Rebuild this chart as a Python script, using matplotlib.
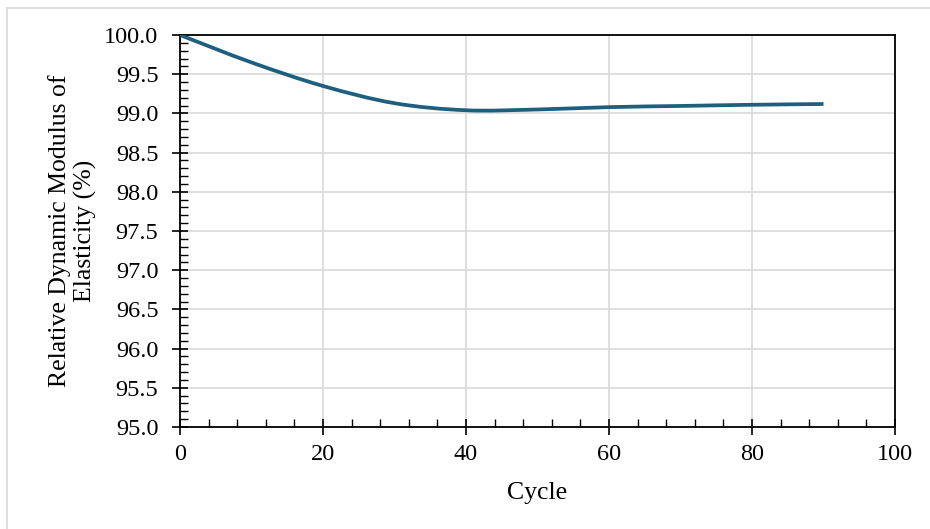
import matplotlib.pyplot as plt
from matplotlib.path import Path
from matplotlib.patches import PathPatch
from matplotlib.ticker import MultipleLocator, FormatStrFormatter
from matplotlib.lines import Line2D

# relative dynamic modulus vs freeze-thaw cycles
cycles = [0, 10, 20, 30, 40, 50, 60, 70, 80, 90]
modulus = [100.0, 99.65, 99.35, 99.13, 99.04, 99.05, 99.08, 99.095, 99.11, 99.12]

x_ticks = [0, 20, 40, 60, 80, 100]
y_ticks = [95.0 + 0.5 * i for i in range(11)]

plt.rcParams['font.family'] = ['Liberation Serif', 'DejaVu Serif']

fig = plt.figure(figsize=(9.3, 5.29), dpi=100)
ax = fig.add_axes([180 / 930, 1 - 427 / 529, 715 / 930, 392 / 529])


def smooth_path(xs, ys, t=1 / 6):
    # cubic bezier through every point, spreadsheet-style smoothing
    verts = [(xs[0], ys[0])]
    codes = [Path.MOVETO]
    n = len(xs)
    for i in range(n - 1):
        x0, y0 = xs[max(i - 1, 0)], ys[max(i - 1, 0)]
        x1, y1 = xs[i], ys[i]
        x2, y2 = xs[i + 1], ys[i + 1]
        x3, y3 = xs[min(i + 2, n - 1)], ys[min(i + 2, n - 1)]
        c1 = (x1 + (x2 - x0) * t, y1 + (y2 - y0) * t)
        c2 = (x2 - (x3 - x1) * t, y2 - (y3 - y1) * t)
        verts += [c1, c2, (x2, y2)]
        codes += [Path.CURVE4] * 3
    return Path(verts, codes)


line_color = '#1d5f7d'
ax.add_patch(PathPatch(smooth_path(cycles, modulus), fill=False,
                       edgecolor=line_color, lw=2.7, capstyle='butt', zorder=3))

ax.set_xlim(0, 100)
ax.set_ylim(95, 100)
ax.set_xticks(x_ticks)
ax.set_yticks(y_ticks)
ax.yaxis.set_major_formatter(FormatStrFormatter('%.1f'))
ax.xaxis.set_minor_locator(MultipleLocator(4))
ax.yaxis.set_minor_locator(MultipleLocator(0.1))

ax.grid(True, which='major', color='#d9d9d9', lw=1.2)
ax.set_axisbelow(True)
ax.tick_params(which='major', direction='inout', length=11, width=1.2,
               labelsize=17.5, colors='black')
ax.tick_params(axis='x', which='major', pad=7)
ax.tick_params(axis='y', which='major', pad=10)
ax.tick_params(which='minor', direction='in', length=6, width=1.0)
ax.tick_params(top=False, right=False, which='both')
for s in ax.spines.values():
    s.set_linewidth(1.3)
    s.set_color('black')

ax.set_xlabel('Cycle', fontsize=18.5, labelpad=12)
ax.set_ylabel('Relative Dynamic Modulus of\nElasticity (%)', fontsize=18.5,
              labelpad=5, linespacing=1.2)

# light outer frame
fig.add_artist(Line2D([7 / 930, 1], [1 - 8 / 529, 1 - 8 / 529],
                      transform=fig.transFigure, color='#d9d9d9', lw=1.2))
fig.add_artist(Line2D([7 / 930, 7 / 930], [0, 1 - 8 / 529],
                      transform=fig.transFigure, color='#d9d9d9', lw=1.2))

plt.savefig('out.png', dpi=100)
plt.close()
